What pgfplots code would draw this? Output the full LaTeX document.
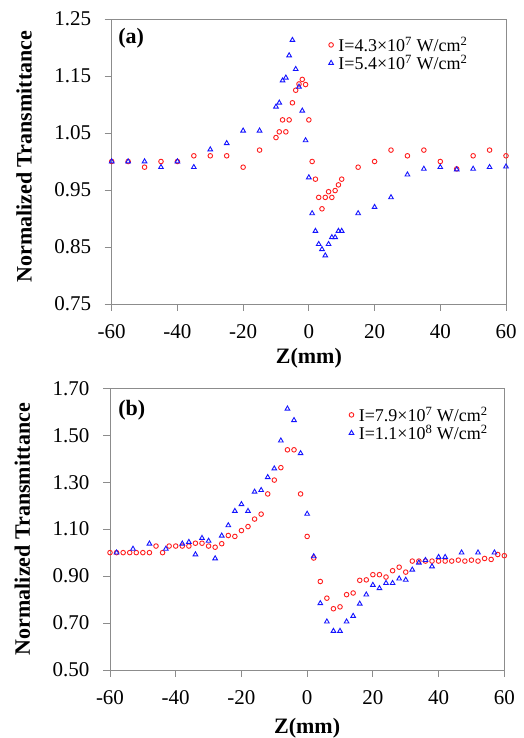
\documentclass[border=0pt]{standalone}
\usepackage{fontspec}
\setmainfont{Liberation Serif}
\usepackage{pgfplots}
\pgfplotsset{compat=1.18}

\definecolor{framegray}{RGB}{140,140,140}
\definecolor{ptred}{RGB}{255,30,30}
\definecolor{ptblue}{RGB}{20,20,255}

% panel (a)
\pgfplotstableread{
z t
-60 1.00
-55 1.00
-50 0.99
-45 1.00
-40 1.00
-35 1.01
-30 1.01
-25 1.01
-20 0.99
-15 1.02
-10 1.042
-9 1.052
-8 1.073
-7 1.052
-6 1.073
-5 1.103
-4 1.125
-3 1.136
-2 1.144
-1 1.135
0 1.073
1 1.00
2 0.969
3 0.937
4 0.917
5 0.937
6 0.947
7 0.937
8 0.949
9 0.959
10 0.969
15 0.99
20 1.00
25 1.02
30 1.01
35 1.02
40 1.00
45 0.987
50 1.01
55 1.02
60 1.01
}\redA
\pgfplotstableread{
z t
-60 1.00
-55 1.00
-50 1.00
-45 0.99
-40 1.00
-35 0.99
-30 1.021
-25 1.032
-20 1.054
-15 1.054
-10 1.096
-9 1.103
-8 1.142
-7 1.147
-6 1.186
-5 1.213
-4 1.162
-3 1.131
-2 1.089
-1 1.037
0 0.972
1 0.909
2 0.878
3 0.855
4 0.846
5 0.835
6 0.855
7 0.867
8 0.867
9 0.878
10 0.878
15 0.909
20 0.920
25 0.937
30 0.977
35 0.987
40 0.99
45 0.986
50 0.987
55 0.99
60 0.991
}\blueA

% panel (b)
\pgfplotstableread{
z t
-60 1.00
-58 1.00
-56 1.00
-54 1.00
-52 1.00
-50 1.00
-48 1.00
-46 1.028
-44 1.00
-42 1.028
-40 1.028
-38 1.028
-36 1.028
-34 1.040
-32 1.040
-30 1.028
-28 1.023
-26 1.038
-24 1.073
-22 1.069
-20 1.094
-18 1.111
-16 1.143
-14 1.164
-12 1.250
-10 1.309
-8 1.362
-6 1.438
-4 1.438
-2 1.250
0 1.069
2 0.977
4 0.877
6 0.806
8 0.761
10 0.769
12 0.821
14 0.828
16 0.882
18 0.884
20 0.906
22 0.906
24 0.896
26 0.923
28 0.938
30 0.917
32 0.964
34 0.964
36 0.964
38 0.964
40 0.964
42 0.964
44 0.964
46 0.968
48 0.964
50 0.968
52 0.964
54 0.975
56 0.971
58 0.992
60 0.987
}\redB
\pgfplotstableread{
z t
-58 1.00
-53 1.016
-48 1.038
-43 1.016
-38 1.038
-36 1.045
-34 0.992
-32 1.062
-30 1.050
-28 0.975
-26 1.072
-24 1.116
-22 1.177
-20 1.206
-18 1.177
-16 1.259
-14 1.266
-12 1.321
-10 1.358
-8 1.477
-6 1.613
-4 1.564
-2 1.423
0 1.165
2 0.984
4 0.784
6 0.706
8 0.666
10 0.666
12 0.706
14 0.730
16 0.782
18 0.821
20 0.862
22 0.848
24 0.870
26 0.870
28 0.889
30 0.884
32 0.927
34 0.957
36 0.968
38 0.941
40 0.981
42 0.981
47 1.00
52 1.00
57 1.00
}\blueB

\pgfplotsset{
  panel/.style={
    scale only axis,
    width=394.3pt,
    xmin=-60, xmax=60,
    xtick={-60,-40,...,60},
    axis line style={framegray, line width=0.9pt},
    tick style={framegray, line width=0.9pt},
    tick align=outside,
    major tick length=7pt,
    xtick pos=bottom, ytick pos=left,
    /pgf/number format/assume math mode=true,
    tick label style={font=\fontsize{21}{24}\selectfont},
    xticklabel style={yshift=-10pt},
    yticklabel style={xshift=-10pt, /pgf/number format/.cd, fixed, fixed zerofill, precision=2},
    xlabel={\bfseries Z(mm)},
    ylabel={\bfseries Normalized Transmittance},
    label style={font=\fontsize{22}{26}\selectfont},
    legend style={draw=none, fill=none, font=\fontsize{18}{20}\selectfont,
      legend cell align=left, row sep=-2pt, column sep=3pt, inner sep=0pt},
    legend image code/.code={\draw[mark repeat=2,mark phase=2,#1] plot coordinates {(-4pt,0pt)(0pt,0pt)(4pt,0pt)};},
    clip=false,
  },
  redpts/.style={only marks, mark=o, mark size=2.3pt, ptred, line width=0.9pt},
  bluepts/.style={only marks, mark=triangle, mark size=2.7pt, ptblue, line width=0.9pt},
}

\begin{document}
\begin{tikzpicture}[x=1pt,y=1pt]
\useasboundingbox (0,0) rectangle (524,738);

\begin{axis}[panel,
  at={(111.7pt,434pt)}, anchor=south west,
  height=285pt,
  ymin=0.75, ymax=1.25,
  ytick={0.75,0.85,...,1.26},
  xlabel style={at={(axis description cs:0.5,-0.19)}, anchor=center},
  ylabel style={at={(axis description cs:-0.2224,0.517)}, anchor=center},
  legend style={at={(axis description cs:0.55,0.945)}, anchor=north west},
]
\addplot[redpts] table[x=z,y=t] {\redA};
\addlegendentry{I=4.3×10\textsuperscript{7} W/cm\textsuperscript{2}}
\addplot[bluepts] table[x=z,y=t] {\blueA};
\addlegendentry{I=5.4×10\textsuperscript{7} W/cm\textsuperscript{2}}
\node[anchor=base west, font=\fontsize{22}{26}\selectfont\bfseries] at (rel axis cs:0.008,0.915) {(a)};
\end{axis}

\begin{axis}[panel,
  at={(110pt,68pt)}, anchor=south west,
  height=281.7pt,
  ymin=0.5, ymax=1.7,
  ytick={0.5,0.7,...,1.71},
  xlabel style={at={(axis description cs:0.5,-0.205)}, anchor=center},
  ylabel style={at={(axis description cs:-0.2224,0.5)}, anchor=center},
  legend style={at={(axis description cs:0.606,0.942)}, anchor=north west},
]
\addplot[redpts] table[x=z,y=t] {\redB};
\addlegendentry{I=7.9×10\textsuperscript{7} W/cm\textsuperscript{2}}
\addplot[bluepts] table[x=z,y=t] {\blueB};
\addlegendentry{I=1.1×10\textsuperscript{8} W/cm\textsuperscript{2}}
\node[anchor=base west, font=\fontsize{22}{26}\selectfont\bfseries] at (rel axis cs:0.012,0.902) {(b)};
\end{axis}
\end{tikzpicture}
\end{document}
